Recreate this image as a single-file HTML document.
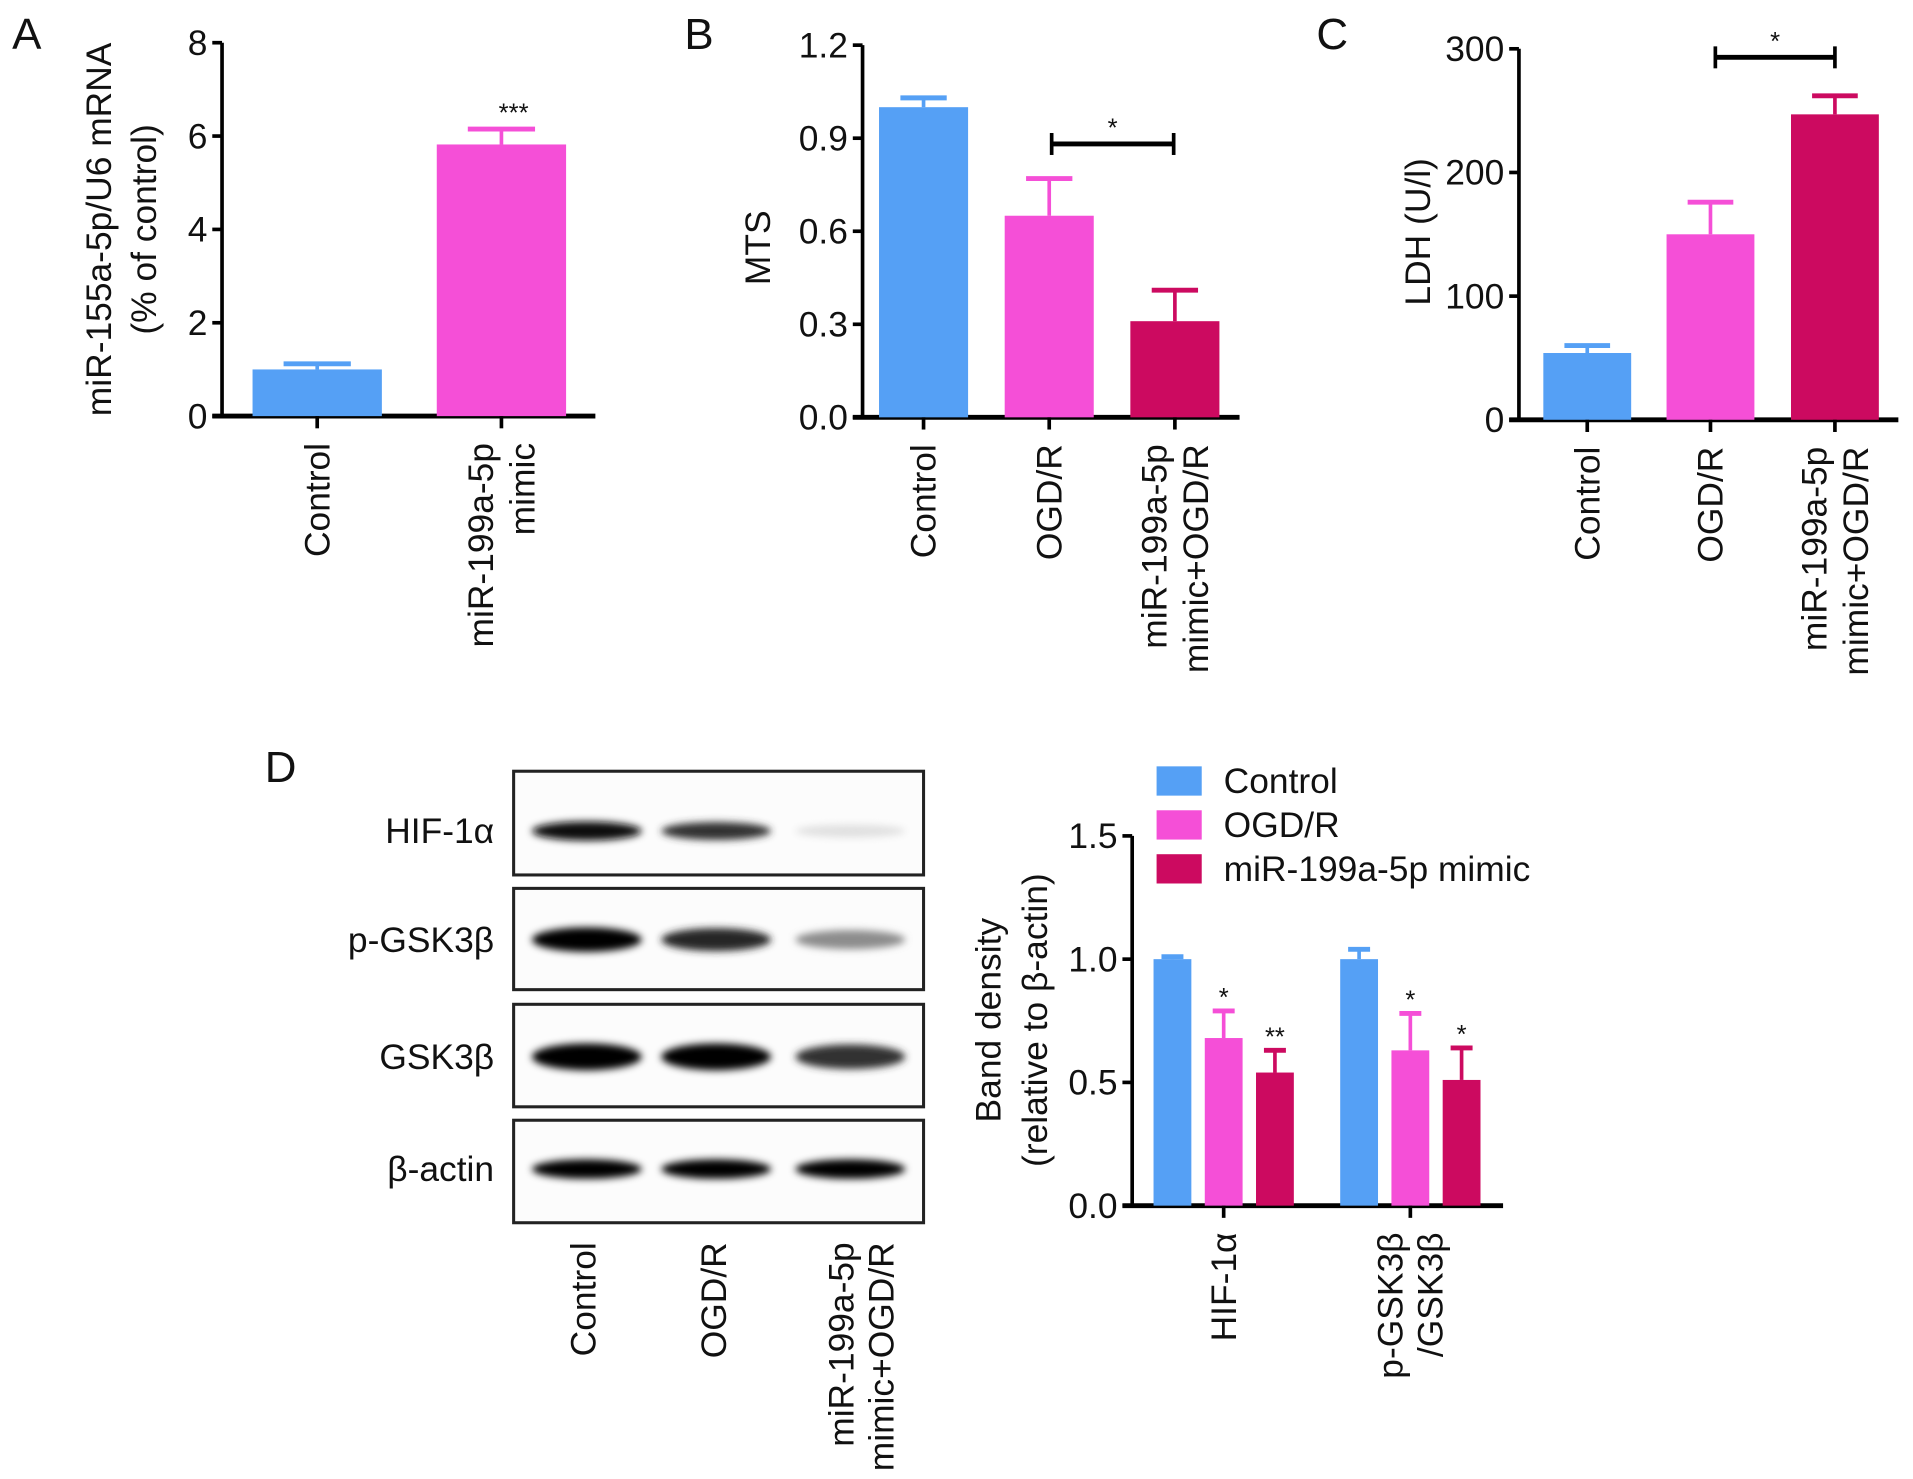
<!DOCTYPE html>
<html><head><meta charset="utf-8">
<style>
html,body{margin:0;padding:0;background:#fff;width:1913px;height:1479px;overflow:hidden}
svg{display:block}
text{font-family:"Liberation Sans",Arial,sans-serif;fill:#111}
</style></head>
<body>
<svg id="fig" width="1913" height="1479" viewBox="0 0 1568 1212" preserveAspectRatio="none" xmlns="http://www.w3.org/2000/svg">
<defs>
<filter id="blur" x="-20%" y="-100%" width="140%" height="300%"><feGaussianBlur stdDeviation="3"/></filter>
</defs>
<text x="10" y="40" font-size="36">A</text>
<text x="561" y="40" font-size="36">B</text>
<text x="1079" y="40" font-size="36">C</text>
<text x="217" y="641" font-size="36">D</text>
</svg>
<script>
const BLUE='#55a0f5', PINK='#f54fd7', RED='#cc0a60';
const FS=29;
// Panel A data
const aCats=['Control','miR-199a-5p|mimic'];
const aVals=[1.0,5.82];
const aErr=[0.12,0.33];
const aTicks=[0,2,4,6,8];
const aSig=['','***'];
// Panel B data
const bCats=['Control','OGD/R','miR-199a-5p|mimic+OGD/R'];
const bVals=[1.0,0.65,0.31];
const bErr=[0.03,0.12,0.10];
const bTicks=['0.0','0.3','0.6','0.9','1.2'];
// Panel C data
const cCats=['Control','OGD/R','miR-199a-5p|mimic+OGD/R'];
const cVals=[54,150,247];
const cErr=[6,26,15];
const cTicks=[0,100,200,300];
// Panel D data
const dGroups=['HIF-1α','p-GSK3β|/GSK3β'];
const dSeries=['Control','OGD/R','miR-199a-5p mimic'];
const dControl=[1.0,1.0];
const dOGD=[0.68,0.63];
const dMimic=[0.54,0.51];
const dControlErr=[0.01,0.04];
const dOGDErr=[0.11,0.15];
const dMimicErr=[0.09,0.13];
const dSigOGD=['*','*'];
const dSigMimic=['**','*'];
const dTicks=['0.0','0.5','1.0','1.5'];
// Blot data (intensity 0..1 per lane)
const blotRows=['HIF-1α','p-GSK3β','GSK3β','β-actin'];
const blotLanes=['Control','OGD/R','miR-199a-5p|mimic+OGD/R'];
const blotHIF=[0.95,0.8,0.12];
const blotPGSK=[1.0,0.85,0.45];
const blotGSK=[1.0,1.0,0.8];
const blotActin=[1.0,1.0,1.0];

const svg=document.getElementById('fig');
const NS='http://www.w3.org/2000/svg';
function el(tag,attrs,parent){const e=document.createElementNS(NS,tag);for(const k in attrs)e.setAttribute(k,attrs[k]);(parent||svg).appendChild(e);return e;}
function txt(x,y,s,size,anchor,rot,parent){const t=el('text',{x:x,y:y,'font-size':size,'text-anchor':anchor||'start'},parent);if(rot)t.setAttribute('transform','rotate('+rot+' '+x+' '+y+')');t.textContent=s;return t;}

function yScale(min,max,y0,y1){return v=>y0-(v-min)/(max-min)*(y0-y1);}

function barPanel(o){
  const g=el('g',{});
  
  
  const ys=yScale(o.min,o.max,o.y0,o.y1);
  const ax=el('line',{x1:o.ax,y1:o.y1,x2:o.ax,y2:o.y0+1.5,stroke:'#000','stroke-width':3},g);
  
  
  o.ticks.forEach(tk=>{
    const y=ys(+tk);
    el('line',{x1:o.ax-8,y1:y,x2:o.ax,y2:y,stroke:'#000','stroke-width':3},g);
    const t=txt(o.ax-12,y+10,String(tk),FS,'end',0,g);
    
    
  });
  const xa=el('line',{x1:o.ax-8,y1:o.y0,x2:o.xEnd,y2:o.y0,stroke:'#000','stroke-width':4},g);
  
  
  o.vals.forEach((v,i)=>{
    const cx=o.cx[i], w=o.bw, top=ys(v), et=ys(v+o.err[i]);
    const r=el('rect',{x:cx-w/2,y:top,width:w,height:o.y0-top,fill:o.colors[i]},g);
    
    
    el('line',{x1:cx,y1:top,x2:cx,y2:et,stroke:o.colors[i],'stroke-width':3},g);
    el('line',{x1:cx-w*0.26,y1:et,x2:cx+w*0.26,y2:et,stroke:o.colors[i],'stroke-width':4},g);
    el('line',{x1:cx,y1:o.y0,x2:cx,y2:o.y0+10,stroke:'#000','stroke-width':3},g);
    const parts=o.cats[i].split('|');
    parts.forEach((p,j)=>{
      const lx=cx+10+(j-(parts.length-1)/2)*34;
      const t=txt(lx,o.y0+22,p,FS,'end',-90,g);
      
      
    });
    if(o.sig&&o.sig[i]){const s=txt(cx+10,et-6,o.sig[i],21,'middle',0,g);
      
      }
  });
  o.title.forEach((tl,j)=>{
    const t=txt(o.tx[j],o.ty,tl,FS,'middle',-90,g);
    
    
  });
  if(o.bracket){
    const b=o.bracket, y=b.y;
    const bg=el('g',{},g);
    
    
    el('line',{x1:b.x1,y1:y,x2:b.x2,y2:y,stroke:'#000','stroke-width':4},bg);
    el('line',{x1:b.x1,y1:y-9,x2:b.x1,y2:y+9,stroke:'#000','stroke-width':3},bg);
    el('line',{x1:b.x2,y1:y-9,x2:b.x2,y2:y+9,stroke:'#000','stroke-width':3},bg);
    txt((b.x1+b.x2)/2,y-6,'*',21,'middle',0,bg);
  }
}

barPanel({name:'panel-a-chart',min:0,max:8,y0:341,y1:35,ax:182,xEnd:488,ticks:aTicks,vals:aVals,err:aErr,cats:aCats,
  cx:[260,411],bw:106,colors:[BLUE,PINK],sig:aSig,title:['miR-155a-5p/U6 mRNA','(% of control)'],tx:[91,128],ty:188});
barPanel({name:'panel-b-chart',min:0,max:1.2,y0:342,y1:37,ax:707,xEnd:1016,ticks:bTicks,vals:bVals,err:bErr,cats:bCats,
  cx:[757,860,963],bw:73,colors:[BLUE,PINK,RED],title:['MTS'],tx:[631],ty:203,bracket:{x1:862,x2:962,y:118}});
barPanel({name:'panel-c-chart',min:0,max:300,y0:344,y1:40,ax:1245,xEnd:1556,ticks:cTicks,vals:cVals,err:cErr,cats:cCats,
  cx:[1301,1402,1504],bw:72,colors:[BLUE,PINK,RED],title:['LDH (U/l)'],tx:[1172],ty:190,bracket:{x1:1406,x2:1504,y:47}});

// Western blot
(function(){
  const g=el('g',{});
  
  
  const rowsY=[[632,717],[728,811],[823,907],[918,1002]];
  const data=[blotHIF,blotPGSK,blotGSK,blotActin];
  const lanes=[481,587,697];
  const bandH=[16,20,22,16];
  const bandY=[681,770,866,958];
  rowsY.forEach((r,i)=>{
    const b=el('rect',{x:421,y:r[0],width:336,height:r[1]-r[0],fill:'#fcfcfc',stroke:'#222','stroke-width':2.5},g);
    
    
    data[i].forEach((v,j)=>{
      const shade=Math.round(255*(1-v));
      const e=el('ellipse',{cx:lanes[j],cy:bandY[i],rx:45,ry:bandH[i]/2*(0.6+0.4*v),fill:'rgb('+shade+','+shade+','+shade+')',filter:'url(#blur)'},g);
      
      
    });
    const t=txt(405,bandY[i]+10,blotRows[i],FS,'end',0,g);
    
    
  });
  blotLanes.forEach((ln,j)=>{
    const parts=ln.split('|');
    parts.forEach((p,k)=>{
      const lx=[478,585,706][j]+10+(k-(parts.length-1)/2)*33;
      const t=txt(lx,1018,p,FS,'end',-90,g);
      
      
    });
  });
})();

// Panel D grouped bar chart
(function(){
  const g=el('g',{});
  
  
  const y0=988,y1=685,ax=928;
  const ys=yScale(0,1.5,y0,y1);
  const a=el('line',{x1:ax,y1:y1,x2:ax,y2:y0,stroke:'#000','stroke-width':3},g);
  
  
  dTicks.forEach(tk=>{const y=ys(+tk);
    el('line',{x1:ax-8,y1:y,x2:ax,y2:y,stroke:'#000','stroke-width':3},g);
    const t=txt(ax-12,y+10,tk,FS,'end',0,g);
    
    });
  const xa=el('line',{x1:ax-8,y1:y0,x2:1232,y2:y0,stroke:'#000','stroke-width':4},g);
  
  
  const series=[dControl,dOGD,dMimic], errs=[dControlErr,dOGDErr,dMimicErr], cols=[BLUE,PINK,RED];
  const sigs=[null,dSigOGD,dSigMimic];
  const gc=[1003,1156], bw=31, step=42;
  dGroups.forEach((gname,gi)=>{
    series.forEach((s,si)=>{
      const cx=gc[gi]+(si-1)*step, v=s[gi], top=ys(v), et=ys(v+errs[si][gi]);
      const r=el('rect',{x:cx-bw/2,y:top,width:bw,height:y0-top,fill:cols[si]},g);
      
      
      el('line',{x1:cx,y1:top,x2:cx,y2:et,stroke:cols[si],'stroke-width':3},g);
      el('line',{x1:cx-9,y1:et,x2:cx+9,y2:et,stroke:cols[si],'stroke-width':4},g);
      if(sigs[si]){const st=txt(cx,et-4,sigs[si][gi],21,'middle',0,g);
        
        }
    });
    el('line',{x1:gc[gi],y1:y0,x2:gc[gi],y2:y0+10,stroke:'#000','stroke-width':3},g);
    const parts=gname.split('|');
    parts.forEach((p,k)=>{
      const lx=gc[gi]+10+(k-(parts.length-1)/2)*33;
      const t=txt(lx,1010,p,FS,'end',-90,g);
      
      
    });
  });
  ['Band density','(relative to β-actin)'].forEach((tl,j)=>{
    const t=txt([820,858][j],836,tl,FS,'middle',-90,g);
    
    
  });
  dSeries.forEach((s,i)=>{
    const y=628+i*36;
    const lg=el('g',{},g);
    
    
    el('rect',{x:948,y:y,width:37,height:24,fill:cols[i]},lg);
    txt(1003,y+22,s,FS,'start',0,lg);
  });
})();
</script>
</body></html>
